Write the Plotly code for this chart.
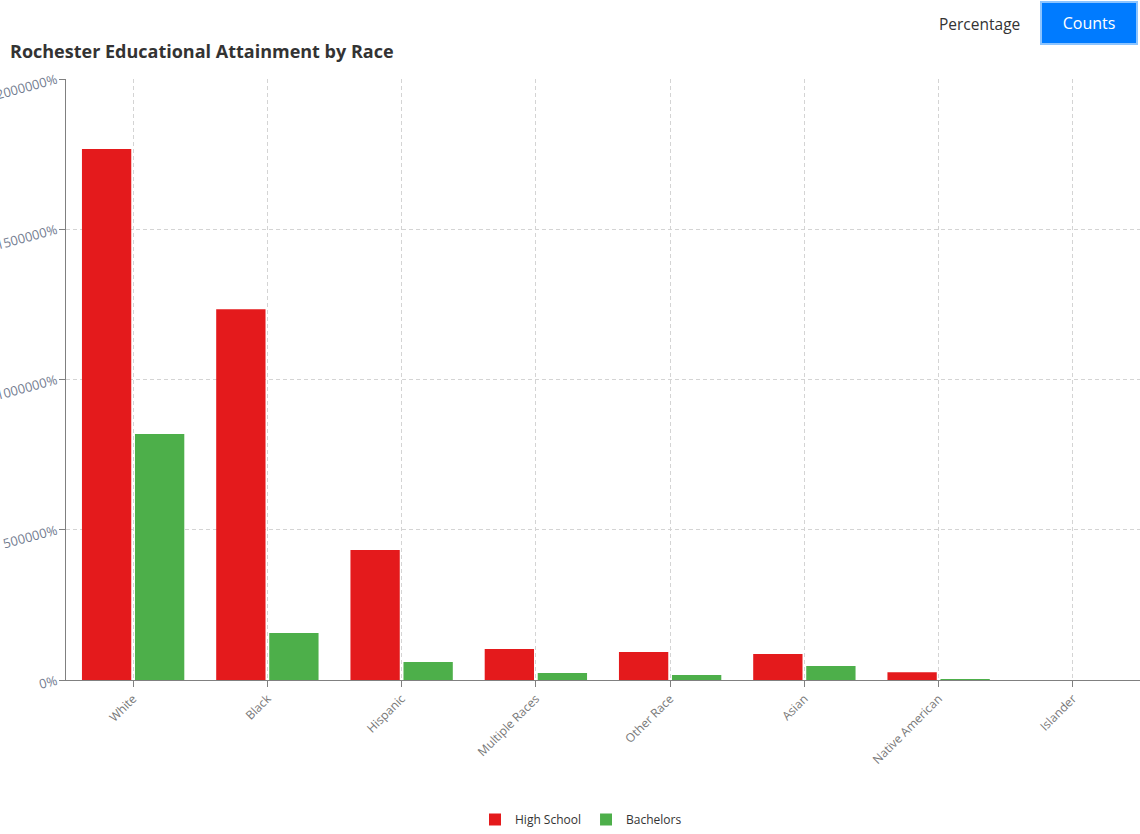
import plotly.graph_objects as go

races = ["White", "Black", "Hispanic", "Multiple Races", "Other Race",
         "Asian", "Native American", "Islander"]
high_school = [17670, 12340, 4325, 1030, 930, 865, 255, 0]
bachelors = [8185, 1565, 600, 235, 165, 465, 30, 0]
y_ticks = [0, 5000, 10000, 15000, 20000]

fig = go.Figure()
fig.add_trace(go.Bar(name="High School", x=races, y=high_school,
                     marker=dict(color="#e41a1c", line=dict(width=0))))
fig.add_trace(go.Bar(name="Bachelors", x=races, y=bachelors,
                     marker=dict(color="#4daf4a", line=dict(width=0))))

grid_dash = "4px,3px"

fig.update_layout(
    width=1140, height=834,
    margin=dict(l=66, r=0, t=79, b=153),
    paper_bgcolor="white", plot_bgcolor="white",
    barmode="group", bargap=0.21, bargroupgap=0.07,
    font=dict(family="Open Sans, Noto Sans, sans-serif", color="#666"),
    title=dict(text="<b>Rochester Educational Attainment by Race</b>",
               x=10 / 1140, xanchor="left", xref="container",
               y=1 - 52 / 834, yanchor="middle", yref="container",
               font=dict(size=18, color="#333")),
    legend=dict(orientation="h", x=0.5 - 22 / 1074, xanchor="center",
                y=-(821 - 681) / 602, yanchor="middle",
                font=dict(size=12, color="#333"),
                itemwidth=30, traceorder="normal"),
    xaxis=dict(
        range=[-0.5, 7.5], tickangle=-45, showgrid=True,
        gridcolor="#d4d4d4", griddash=grid_dash, gridwidth=1,
        showline=True, linecolor="#808080", linewidth=1,
        ticks="outside", ticklen=6, tickcolor="#808080",
        tickfont=dict(size=12, color="#777"), automargin=False,
    ),
    yaxis=dict(
        range=[0, 20000], tickvals=y_ticks, tickformat=".0%",
        tickangle=-15, showgrid=True, gridcolor="#d4d4d4",
        griddash=grid_dash, gridwidth=1, zeroline=False,
        showline=True, linecolor="#808080", linewidth=1,
        ticks="outside", ticklen=6, tickcolor="#808080",
        tickfont=dict(size=13, color="#737c90"), automargin=False,
    ),
    annotations=[
        dict(text="Percentage", xref="paper", yref="paper",
             x=(979 - 66) / 1074, y=1 + (79 - 24) / 602,
             xanchor="center", yanchor="middle", showarrow=False,
             font=dict(size=15.5, color="#333")),
        dict(text="Counts", xref="paper", yref="paper",
             x=(1089 - 66) / 1074, y=1 + (79 - 23) / 602,
             xanchor="center", yanchor="middle", showarrow=False,
             font=dict(size=16, color="white"),
             bgcolor="#007bff", bordercolor="#8cc4ff", borderwidth=2,
             borderpad=9, width=76),
    ],
)

fig.write_html("out.html")
